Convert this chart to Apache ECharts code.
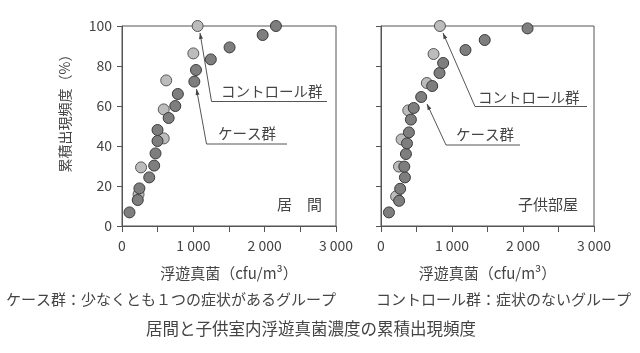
<!DOCTYPE html>
<html>
<head>
<meta charset="utf-8">
<script src="https://cdn.jsdelivr.net/npm/echarts@6/dist/echarts.min.js"></script>
<style>
  html, body { margin: 0; padding: 0; background: #fff; }
  #chart { width: 640px; height: 353px; }
</style>
</head>
<body>
<div id="chart"></div>
<script>
// 居間 (cfu/m3, 累積出現頻度 %)
const livingCase = [[105, 6.8], [221, 13], [244, 18.8], [382, 24.3], [451, 30.2], [470, 36.3], [498, 42.5], [498, 48], [654, 54], [747, 60], [783, 66], [1014, 72.2], [1037, 78], [1245, 83.3], [1508, 89.3], [1972, 95.5], [2158, 100]]
const livingControl = [[232, 15.8], [267, 29.3], [585, 43.8], [585, 58.3], [620, 72.8], [1000, 86.3], [1060, 100]]
// 子供部屋
const childCase = [[112, 6.8], [255, 12.6], [270, 18.6], [337, 24.3], [328, 29.7], [351, 36], [366, 41.3], [393, 46.8], [421, 53.2], [461, 59], [566, 64.5], [721, 70], [824, 76.5], [875, 81.5], [1190, 88], [1461, 93], [2064, 98.8]]
const childControl = [[213, 14.8], [253, 29.7], [290, 43.3], [384, 57.8], [646, 71.5], [740, 86], [830, 100]]
// 目盛り
const xTickValues = [0, 1000, 2000, 3000]
const xTickLabels = ['0', '1 000', '2 000', '3 000']
const yTickLabels = ['0', '20', '40', '60', '80', '100']

const font = '"Noto Sans CJK JP", "Noto Sans", sans-serif'
const axisColor = '#555'
const textColor = '#444'

function xAxisOf(gridIndex) {
  return {
    gridIndex: gridIndex,
    type: 'value',
    min: 0,
    max: 3000,
    interval: 500,
    name: '浮遊真菌（cfu/m³）',
    nameLocation: 'middle',
    nameGap: 40,
    nameTextStyle: { fontFamily: font, fontSize: 15, color: textColor },
    axisLine: { show: true, lineStyle: { color: axisColor, width: 1 } },
    axisTick: { show: true, length: 6, lineStyle: { color: axisColor } },
    axisLabel: {
      margin: 13,
      fontFamily: font,
      fontSize: 14,
      color: textColor,
      formatter: function (v) {
        let i = xTickValues.indexOf(v)
        return i >= 0 ? xTickLabels[i] : ''
      },
    },
    splitLine: { show: false },
  }
}

function yAxisOf(gridIndex, showLabel) {
  return {
    gridIndex: gridIndex,
    type: 'value',
    min: 0,
    max: 100,
    interval: 20,
    axisLine: { show: true, lineStyle: { color: axisColor, width: 1 } },
    axisTick: { show: true, length: 5, lineStyle: { color: axisColor } },
    axisLabel: {
      show: showLabel,
      margin: 10,
      fontFamily: font,
      fontSize: 14,
      color: textColor,
      formatter: function (v) {
        return yTickLabels[v / 20]
      },
    },
    splitLine: { show: false },
  }
}

function scatterOf(name, data, gridIndex, light) {
  return {
    name: name,
    type: 'scatter',
    xAxisIndex: gridIndex,
    yAxisIndex: gridIndex,
    data: data,
    symbol: 'circle',
    symbolSize: 11,
    clip: false,
    itemStyle: {
      color: light ? '#bcbcbc' : '#7e7e7e',
      borderColor: light ? '#555' : '#3a3a3a',
      borderWidth: 1,
      opacity: 1,
    },
  }
}

// 引出線と矢印
function pointer(pts) {
  let n = pts.length
  let tip = pts[n - 1]
  let from = pts[n - 2]
  let dx = tip[0] - from[0]
  let dy = tip[1] - from[1]
  let len = Math.sqrt(dx * dx + dy * dy)
  let ux = dx / len
  let uy = dy / len
  let bx = tip[0] - ux * 6
  let by = tip[1] - uy * 6
  return [
    {
      type: 'polyline',
      shape: { points: pts },
      style: { stroke: '#555', lineWidth: 1, fill: null },
    },
    {
      type: 'polygon',
      shape: { points: [tip, [bx - uy * 2, by + ux * 2], [bx + uy * 2, by - ux * 2]] },
      style: { fill: '#444' },
    },
  ]
}

function label(text, x, y, size, align) {
  return {
    type: 'text',
    x: x,
    y: y,
    style: {
      text: text,
      fontFamily: font,
      fontSize: size,
      fill: textColor,
      align: align || 'left',
      verticalAlign: 'middle',
    },
  }
}

let chart = echarts.init(document.getElementById('chart'))
chart.setOption({
  animation: false,
  grid: [
    { left: 122, top: 26, width: 214, height: 200, show: true, borderColor: axisColor, borderWidth: 1 },
    { left: 381, top: 26, width: 213, height: 200, show: true, borderColor: axisColor, borderWidth: 1 },
  ],
  xAxis: [xAxisOf(0), xAxisOf(1)],
  yAxis: [yAxisOf(0, true), yAxisOf(1, false)],
  series: [
    scatterOf('コントロール群', livingControl, 0, true),
    scatterOf('ケース群', livingCase, 0, false),
    scatterOf('コントロール群', childControl, 1, true),
    scatterOf('ケース群', childCase, 1, false),
  ],
  graphic: [
    {
      type: 'text',
      x: 65,
      y: 110,
      rotation: Math.PI / 2,
      style: {
        text: '累積出現頻度（%）',
        fontFamily: font,
        fontSize: 14,
        fill: textColor,
        align: 'center',
        verticalAlign: 'middle',
      },
    },
    ...pointer([[327, 101.5], [211.5, 101.5], [200, 33]]),
    ...pointer([[287, 144], [206.5, 144], [196.5, 89]]),
    ...pointer([[587, 106.5], [475, 106.5], [443, 33]]),
    ...pointer([[520, 145], [446, 145], [427, 104]]),
    label('コントロール群', 221, 91, 14.5),
    label('ケース群', 218, 133, 14.5),
    label('コントロール群', 478, 97, 14.5),
    label('ケース群', 456, 134, 14.5),
    label('居　間', 277, 204, 15),
    label('子供部屋', 518, 204, 15),
    label('ケース群：少なくとも１つの症状があるグループ', 6, 299, 15),
    label('コントロール群：症状のないグループ', 376, 299, 15),
    label('居間と子供室内浮遊真菌濃度の累積出現頻度', 311, 329, 16.5, 'center'),
  ],
})
</script>
</body>
</html>
